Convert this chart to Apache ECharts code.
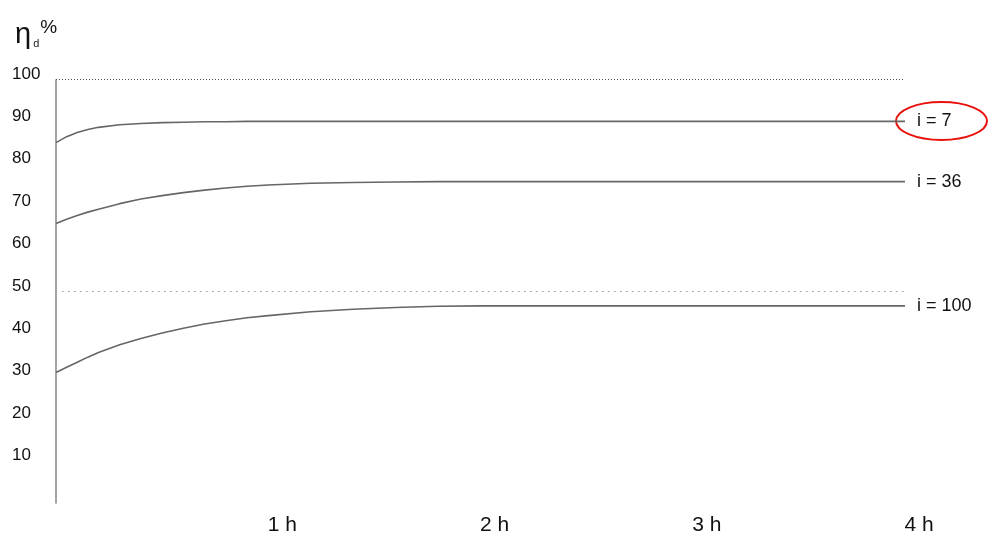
<!DOCTYPE html>
<html>
<head>
<meta charset="utf-8">
<script src="https://cdn.jsdelivr.net/npm/echarts@6/dist/echarts.min.js"></script>
<style>
html,body{margin:0;padding:0;background:#fff;}
#c{width:994px;height:536px;}
</style>
</head>
<body>
<div id="c"></div>
<script>
// Time in hours
var hours = [0, 0.05, 0.1, 0.15, 0.2, 0.3, 0.4, 0.5, 0.6, 0.7, 0.8, 0.9, 1, 1.2, 1.4, 1.6, 1.8, 2, 2.5, 3, 3.5, 4];
// Efficiency eta_d (%)
var i7   = [85.0, 86.4, 87.4, 88.1, 88.6, 89.2, 89.5, 89.7, 89.8, 89.9, 89.9, 90.0, 90.0, 90.0, 90.0, 90.0, 90.0, 90.0, 90.0, 90.0, 90.0, 90.0];
var i36  = [65.9, 66.9, 67.8, 68.6, 69.3, 70.6, 71.7, 72.5, 73.2, 73.8, 74.3, 74.7, 75.0, 75.4, 75.6, 75.7, 75.8, 75.8, 75.8, 75.8, 75.8, 75.8];
var i100 = [30.8, 32.0, 33.2, 34.4, 35.5, 37.3, 38.8, 40.1, 41.2, 42.2, 43.0, 43.7, 44.2, 45.1, 45.7, 46.1, 46.4, 46.5, 46.5, 46.5, 46.5, 46.5];
var seriesNames = ['i = 7', 'i = 36', 'i = 100'];
var refLines = [100, 50];

function pairs(ys){ return hours.map(function(h,k){ return [h, ys[k]]; }); }

var FONT = '"Liberation Sans", Arial, sans-serif';
var lineColor = '#666';

function mkSeries(name, ys, extra){
  var s = {
    name: name,
    type: 'line',
    data: pairs(ys),
    smooth: false,
    showSymbol: false,
    symbol: 'none',
    lineStyle: { color: lineColor, width: 1.6 },
    endLabel: {
      show: true,
      formatter: name,
      distance: 12,
      color: '#111',
      fontFamily: FONT,
      fontSize: 18
    },
    silent: true,
    animation: false
  };
  if (extra) { for (var k in extra) s[k] = extra[k]; }
  return s;
}

var chart = echarts.init(document.getElementById('c'), null, {renderer:'canvas'});
chart.setOption({
  animation: false,
  backgroundColor: '#fff',
  title: {
    left: 10, top: 8,
    text: '{a|η}{b|d}{c|%}',
    textStyle: {
      fontWeight: 'normal',
      rich: {
        a: { fontSize: 29, fontFamily: FONT, fontWeight: 'normal', color: '#111', lineHeight: 36, verticalAlign: 'bottom' },
        b: { fontSize: 11, fontFamily: FONT, fontWeight: 'normal', color: '#222', verticalAlign: 'bottom', padding: [0,0,0,2] },
        c: { fontSize: 19, fontFamily: FONT, fontWeight: 'normal', color: '#111', verticalAlign: 'top', padding: [5,0,0,1] }
      }
    }
  },
  grid: { left: 56, right: 89, top: 79, bottom: 29, containLabel: false },
  xAxis: {
    type: 'value', min: 0, max: 4, interval: 1,
    axisLine: { show: false },
    axisTick: { show: false },
    splitLine: { show: false },
    axisLabel: {
      formatter: function(v){ return v === 0 ? '' : v + ' h'; },
      fontFamily: '"Liberation Sans Narrow", "Liberation Sans", Arial, sans-serif',
      fontSize: 21,
      color: '#111',
      margin: 12,
      padding: [0,0,0,28]
    }
  },
  yAxis: {
    type: 'value', min: 0, max: 100, interval: 10,
    axisLine: { show: true, lineStyle: { color: '#777', width: 1.5, type: [1, 1] } },
    axisTick: { show: false },
    splitLine: { show: false },
    axisLabel: {
      formatter: function(v){ return v === 0 ? '' : String(v); },
      align: 'left',
      verticalAlign: 'bottom',
      lineHeight: 10,
      margin: 44,
      fontFamily: FONT,
      fontSize: 17,
      color: '#111'
    }
  },
  series: [
    mkSeries(seriesNames[0], i7, {
      markLine: {
        silent: true, symbol: 'none', animation: false,
        label: { show: false },
        data: [
          { yAxis: refLines[0], lineStyle: { color: '#555', width: 1, type: [1, 2] } },
          [{ coord: [0.03, refLines[1]], lineStyle: { color: '#666', width: 1, type: [1, 5] } }, { coord: [4, refLines[1]] }]
        ]
      }
    }),
    mkSeries(seriesNames[1], i36),
    mkSeries(seriesNames[2], i100)
  ],
  graphic: [{
    type: 'ellipse',
    shape: { cx: 941.5, cy: 121, rx: 45.5, ry: 19 },
    style: { fill: 'none', stroke: '#e8120c', lineWidth: 2 },
    silent: true
  }]
});
</script>
</body>
</html>
